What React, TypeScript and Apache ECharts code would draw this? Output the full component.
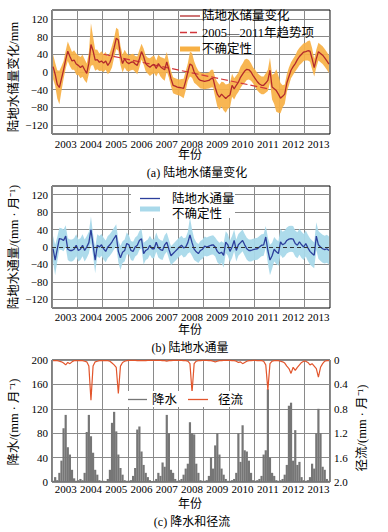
import React, { useEffect, useRef } from 'react';
import * as echarts from 'echarts';

// ---------------- data ----------------
const years = [2003, 2004, 2005, 2006, 2007, 2008, 2009, 2010, 2011, 2012, 2013];
const monthNums = ['01', '02', '03', '04', '05', '06', '07', '08', '09', '10', '11', '12'];
const months = years.flatMap((y) => monthNums.map((m) => `${y}-${m}`));

// (a) terrestrial water storage change (mm), monthly 2003-01 .. 2013-12
const twsChange = [
  12, -5, -28, -35, -15, 5, 28, 47, 35, 25, 27, 18,
  15, 10, 14, 5, -3, 20, 62, 48, 27, 28, 22, 25,
  20, 25, 15, 22, 35, 55, 76, 72, 38, 19, 30, 22,
  19, 22, 23, 18, 15, 30, 46, 35, 19, 14, 11, 15,
  17, 8, 19, 12, 8, 5, 23, 5, -15, -30, -32, -34,
  -35, -36, -37, -20, 0, 18, 15, 0, -8, -15, -19, -20,
  -21, -20, -19, -15, -15, -35, -50, -57, -50, -55, -60, -55,
  -52, -30, -38, -30, -23, -12, -5, 2, 6, 5, 0, -8,
  -15, -22, -27, -30, -30, -25, -19, 4, -34, -38, -42, -50,
  -59, -55, -50, -25, -10, 4, 12, 19, 28, 35, 40, 45,
  46, 48, 47, 30, 10, 30, 46, 42, 38, 32, 25, 18,
];
// (a) uncertainty half-width (mm)
const twsUncertainty = [
  28, 26, 32, 38, 28, 20, 20, 22, 22, 20, 22, 24,
  22, 24, 25, 24, 22, 24, 48, 32, 24, 22, 20, 22,
  20, 20, 20, 22, 24, 22, 24, 24, 22, 20, 20, 20,
  18, 18, 18, 18, 20, 20, 18, 18, 18, 18, 20, 20,
  20, 18, 20, 22, 24, 25, 22, 18, 18, 18, 18, 18,
  18, 20, 22, 22, 20, 28, 28, 24, 20, 18, 18, 18,
  18, 18, 18, 20, 20, 22, 28, 28, 28, 32, 32, 28,
  28, 26, 24, 22, 22, 24, 24, 26, 24, 22, 20, 18,
  20, 20, 20, 20, 20, 22, 24, 28, 28, 34, 48, 42,
  34, 25, 22, 20, 20, 18, 18, 18, 20, 20, 20, 20,
  20, 22, 24, 24, 20, 20, 20, 20, 20, 20, 20, 20,
];
// (a) 2005-2011 trend: [month, value]
const trendStart: [string, number] = ['2005-01', 40];
const trendEnd: [string, number] = ['2011-08', -39];

// (b) terrestrial water flux (mm/month)
const waterFlux = [
  -4, -30, -5, 19, 18, 15, 25, -5, -8, -8, -5, 4,
  -8, -5, 4, -8, 0, 10, 40, 5, -30, 4, 0, 5,
  -4, -10, 0, 5, 12, 20, 27, -10, -25, -12, -8, 8,
  5, -8, -10, 0, 4, 15, 19, -15, -8, -5, 4, -4,
  -4, 11, -2, -6, -8, 5, 11, -5, -20, -15, -10, -5,
  0, 4, -2, 0, 10, 28, 10, -5, -11, -15, -8, -5,
  2, 0, 2, 4, 5, 0, -10, -15, -12, -19, 11, 5,
  -10, 0, 15, -8, 5, 10, 15, 5, -4, -8, -8, -6,
  -5, -4, 0, 4, 5, 23, -8, -30, -20, -5, -11, -15,
  12, 5, 8, 15, 18, 19, 18, 8, 4, 12, 5, 0,
  8, -2, -10, -15, -19, 25, 5, 0, -4, -6, -4, -8,
];
const fluxUncertainty = [
  30, 35, 28, 25, 25, 25, 25, 25, 25, 25, 25, 25,
  25, 25, 25, 25, 25, 25, 30, 25, 30, 25, 25, 25,
  25, 25, 25, 25, 25, 25, 25, 25, 28, 25, 25, 25,
  22, 22, 22, 22, 22, 22, 22, 25, 22, 22, 22, 22,
  22, 22, 22, 22, 22, 22, 22, 22, 22, 22, 22, 22,
  22, 22, 22, 22, 25, 40, 30, 25, 22, 22, 22, 22,
  22, 22, 22, 22, 22, 22, 25, 25, 25, 28, 25, 25,
  25, 25, 25, 25, 25, 25, 25, 25, 25, 25, 25, 25,
  25, 25, 25, 25, 25, 25, 30, 35, 30, 28, 28, 28,
  30, 30, 30, 30, 30, 30, 30, 30, 30, 30, 30, 30,
  30, 30, 30, 30, 30, 32, 32, 32, 32, 32, 32, 32,
];

// (c) precipitation (mm/month)
const precipitation = [
  2, 8, 3, 15, 35, 88, 110, 57, 45, 20, 6, 2,
  3, 5, 3, 15, 82, 110, 75, 48, 20, 12, 3, 2,
  2, 1, 5, 20, 97, 115, 83, 45, 23, 12, 3, 2,
  2, 3, 10, 23, 86, 91, 50, 28, 15, 8, 3, 1,
  2, 5, 15, 10, 32, 25, 110, 80, 20, 15, 5, 2,
  3, 5, 12, 22, 30, 98, 80, 78, 30, 15, 3, 2,
  2, 3, 10, 40, 22, 60, 80, 45, 22, 12, 5, 2,
  2, 3, 5, 15, 80, 33, 93, 52, 50, 35, 15, 3,
  2, 3, 5, 10, 45, 52, 152, 40, 15, 10, 3, 2,
  3, 5, 12, 28, 125, 130, 35, 85, 28, 33, 8, 3,
  2, 3, 8, 30, 22, 80, 120, 80, 25, 20, 5, 2,
];
// (c) runoff (mm/month), right axis inverted
const runoff = [
  0.01, 0.01, 0.01, 0.02, 0.03, 0.05, 0.08, 0.04, 0.06, 0.03, 0.01, 0.01,
  0.01, 0.01, 0.01, 0.02, 0.03, 0.1, 0.66, 0.1, 0.03, 0.02, 0.01, 0.01,
  0.01, 0.01, 0.01, 0.02, 0.05, 0.08, 0.12, 0.55, 0.1, 0.04, 0.02, 0.01,
  0.005, 0.005, 0.005, 0.005, 0.01, 0.01, 0.01, 0.01, 0.01, 0.005, 0.005, 0.005,
  0.005, 0.005, 0.005, 0.005, 0.01, 0.01, 0.02, 0.01, 0.01, 0.005, 0.005, 0.005,
  0.005, 0.005, 0.01, 0.01, 0.02, 0.06, 0.53, 0.06, 0.02, 0.01, 0.01, 0.005,
  0.005, 0.005, 0.01, 0.01, 0.02, 0.03, 0.02, 0.01, 0.01, 0.005, 0.005, 0.005,
  0.005, 0.01, 0.01, 0.02, 0.04, 0.03, 0.06, 0.04, 0.02, 0.01, 0.01, 0.005,
  0.005, 0.01, 0.01, 0.01, 0.02, 0.08, 0.49, 0.06, 0.02, 0.01, 0.01, 0.01,
  0.02, 0.03, 0.05, 0.1, 0.14, 0.22, 0.12, 0.17, 0.12, 0.08, 0.04, 0.02,
  0.02, 0.04, 0.08, 0.06, 0.1, 0.14, 0.28, 0.12, 0.06, 0.02, 0.01, 0.01,
];

// ---------------- styles ----------------
const FONT = "'Liberation Serif', 'Times New Roman', serif";
const CJK = "'Liberation Serif', 'Noto Sans CJK SC', sans-serif";
const GRIDLINE = '#8a8a8a';
const C_TWS = '#b3292b';
const C_TREND = '#d2373b';
const C_TWS_BAND = '#f7b044';
const C_FLUX = '#2c3f9c';
const C_FLUX_BAND = '#a9d9ea';
const C_PRE = '#767676';
const C_RUN = '#e2552c';

const twsLower = twsChange.map((v, i) => v - twsUncertainty[i]);
const twsWidth = twsUncertainty.map((u) => 2 * u);
const fluxLower = waterFlux.map((v, i) => v - fluxUncertainty[i]);
const fluxWidth = fluxUncertainty.map((u) => 2 * u);

const xAxisFor = (gridIndex: number, margin: number) => ({
  type: 'category',
  gridIndex,
  data: months,
  boundaryGap: true,
  axisLine: { show: false },
  axisTick: { show: false },
  axisLabel: {
    interval: (i: number) => i % 12 === 6,
    formatter: (v: string) => v.slice(0, 4),
    fontSize: 11,
    fontFamily: FONT,
    color: '#000',
    margin,
  },
  splitLine: {
    show: true,
    interval: (i: number) => i % 12 === 0,
    lineStyle: { color: GRIDLINE, width: 1 },
  },
});

const tsYAxis = (gridIndex: number) => ({
  type: 'value',
  gridIndex,
  min: -140,
  max: 140,
  interval: 20,
  axisLine: { show: false },
  axisTick: { show: false },
  axisLabel: {
    formatter: (v: number) => (v % 40 === 0 && Math.abs(v) < 140 ? String(v).replace('-', '−') : ''),
    fontSize: 11,
    fontFamily: FONT,
    color: '#000',
    margin: 4,
  },
  splitLine: { show: true, lineStyle: { color: ['rgba(0,0,0,0)', GRIDLINE], width: 1 } },
});

const txt = (text: string, x: number, y: number, fontSize: number, extra: any = {}) => ({
  type: 'text',
  x,
  y,
  z: 100,
  ...extra,
  style: {
    text,
    fontSize,
    fontFamily: CJK,
    fill: '#000',
    align: extra.align || 'center',
    verticalAlign: 'middle',
    textAlign: extra.align || 'center',
    textVerticalAlign: 'middle',
  },
});

const hline = (x1: number, x2: number, y: number, color: string, dash?: number[]) => ({
  type: 'line',
  z: 100,
  shape: { x1, y1: y, x2, y2: y },
  style: { stroke: color, lineWidth: 1.3, lineDash: dash },
});

const box = (x: number, y: number, w: number, h: number, color: string) => ({
  type: 'rect',
  z: 99,
  shape: { x, y, width: w, height: h },
  style: { fill: color },
});

export default function App() {
  const ref = useRef<HTMLDivElement>(null);
  useEffect(() => {
    if (!ref.current) return;
    const chart = echarts.init(ref.current, undefined, { renderer: 'svg' });
    const gridBase = { left: 52, width: 278, show: true, borderColor: '#000', borderWidth: 1, backgroundColor: 'transparent' };
    const option: any = {
      animation: false,
      grid: [
        { ...gridBase, top: 10, height: 124 },
        { ...gridBase, top: 186, height: 122 },
        { ...gridBase, top: 360, height: 122 },
      ],
      xAxis: [xAxisFor(0, 4), xAxisFor(1, 3), xAxisFor(2, 1)],
      yAxis: [
        tsYAxis(0),
        tsYAxis(1),
        {
          type: 'value', gridIndex: 2, min: 0, max: 200, interval: 40,
          axisLine: { show: false }, axisTick: { show: false },
          axisLabel: { fontSize: 11, fontFamily: FONT, color: '#000', margin: 4 },
          splitLine: { show: true, lineStyle: { color: GRIDLINE, width: 1 } },
        },
        {
          type: 'value', gridIndex: 2, position: 'right', min: 0, max: 2, interval: 0.4, inverse: true,
          axisLine: { show: false }, axisTick: { show: false },
          axisLabel: {
            fontSize: 11, fontFamily: FONT, color: '#000', margin: 4,
            formatter: (v: number) => (v === 0 ? '0' : v.toFixed(1)),
          },
          splitLine: { show: false },
        },
      ],
      series: [
        {
          type: 'line', xAxisIndex: 0, yAxisIndex: 0, data: twsLower, stack: 'tws', stackStrategy: 'all',
          symbol: 'none', silent: true, lineStyle: { opacity: 0 }, z: 1,
        },
        {
          type: 'line', xAxisIndex: 0, yAxisIndex: 0, data: twsWidth, stack: 'tws', stackStrategy: 'all',
          symbol: 'none', silent: true, lineStyle: { opacity: 0 }, areaStyle: { color: C_TWS_BAND, opacity: 0.92 }, z: 1,
        },
        {
          type: 'line', xAxisIndex: 0, yAxisIndex: 0, data: [trendStart, trendEnd], symbol: 'none',
          lineStyle: { color: C_TREND, width: 1.2, type: [7, 3] }, z: 3,
        },
        {
          type: 'line', xAxisIndex: 0, yAxisIndex: 0, data: twsChange, symbol: 'none',
          lineStyle: { color: C_TWS, width: 1.3 }, z: 4,
        },
        {
          type: 'line', xAxisIndex: 1, yAxisIndex: 1, data: fluxLower, stack: 'flux', stackStrategy: 'all',
          symbol: 'none', silent: true, lineStyle: { opacity: 0 }, z: 1,
        },
        {
          type: 'line', xAxisIndex: 1, yAxisIndex: 1, data: fluxWidth, stack: 'flux', stackStrategy: 'all',
          symbol: 'none', silent: true, lineStyle: { opacity: 0 }, areaStyle: { color: C_FLUX_BAND, opacity: 0.95 }, z: 1,
        },
        {
          type: 'line', xAxisIndex: 1, yAxisIndex: 1, data: waterFlux, symbol: 'none',
          lineStyle: { color: C_FLUX, width: 1.3 }, z: 4,
          markLine: {
            silent: true, symbol: ['none', 'none'], label: { show: false },
            lineStyle: { color: '#333', width: 1, type: [4, 3] },
            data: [{ yAxis: 0 }],
          },
        },
        {
          type: 'bar', xAxisIndex: 2, yAxisIndex: 2, data: precipitation, barWidth: 2.2,
          itemStyle: { color: C_PRE }, z: 2,
        },
        {
          type: 'line', xAxisIndex: 2, yAxisIndex: 3, data: runoff, symbol: 'none',
          lineStyle: { color: C_RUN, width: 1.2 }, z: 4,
        },
      ],
      graphic: [
        // axis names
        txt('陆地水储量变化/mm', 14, 77, 12.5, { rotation: Math.PI / 2 }),
        txt('陆地水通量/(mm · 月⁻¹)', 14, 247, 12.5, { rotation: Math.PI / 2 }),
        txt('降水/(mm · 月⁻¹)', 14, 422, 12.5, { rotation: Math.PI / 2 }),
        txt('径流/(mm · 月⁻¹)', 362, 428, 12.5, { rotation: Math.PI / 2 }),
        txt('年份', 190, 155, 12),
        txt('年份', 190, 330, 12),
        txt('年份', 190, 504, 12),
        // captions
        txt('(a) 陆地水储量变化', 197, 173, 12),
        txt('(b) 陆地水通量', 190, 348, 12),
        txt('(c) 降水和径流', 192, 522, 12),
        // legend (a)
        hline(180, 200, 16, C_TWS),
        txt('陆地水储量变化', 202, 16, 12.5, { align: 'left' }),
        hline(180, 200, 32.5, C_TREND, [7, 3]),
        txt('2005—2011年趋势项', 202, 32.5, 12.5, { align: 'left' }),
        box(180, 46.5, 20, 5, C_TWS_BAND),
        txt('不确定性', 202, 49, 12.5, { align: 'left' }),
        // legend (b)
        box(131, 187, 104, 31, '#ffffff'),
        hline(140, 160, 198.5, C_FLUX),
        txt('陆地水通量', 172, 198.5, 12.5, { align: 'left' }),
        { ...box(140, 206.5, 20, 5, C_FLUX_BAND), z: 100 },
        txt('不确定性', 172, 213.5, 12.5, { align: 'left' }),
        // legend (c)
        box(122, 391, 126, 16, '#ffffff'),
        hline(128, 147, 399.5, C_PRE),
        txt('降水', 152, 399.5, 12.5, { align: 'left' }),
        hline(188, 208, 399.5, C_RUN),
        txt('径流', 218, 399.5, 12.5, { align: 'left' }),
      ],
    };
    chart.setOption(option);
    return () => chart.dispose();
  }, []);
  return (
    <div
      ref={ref}
      style={{ position: 'absolute', left: 0, top: 0, width: 388, height: 532, background: '#fff' }}
    />
  );
}
